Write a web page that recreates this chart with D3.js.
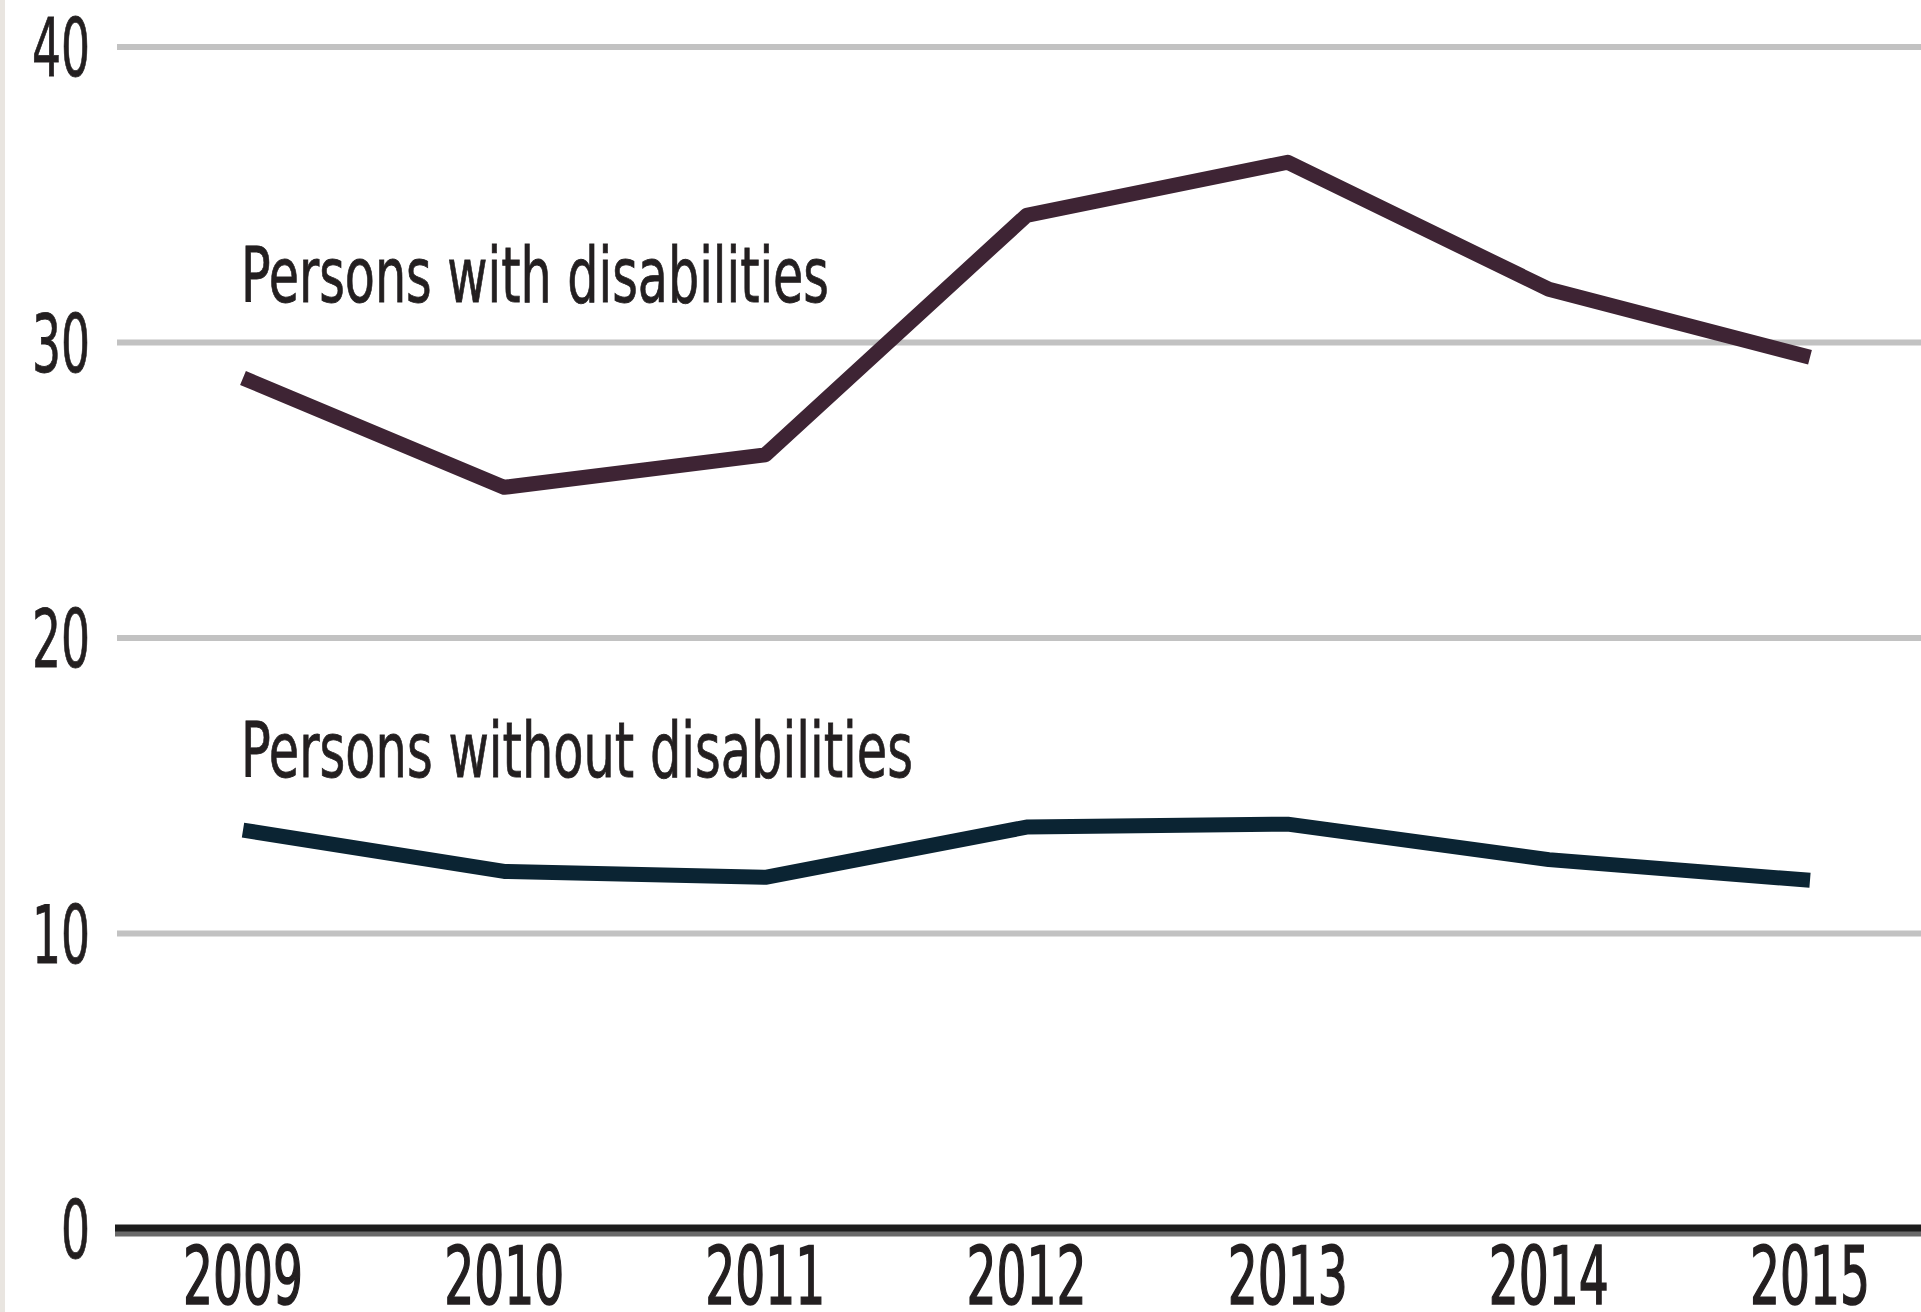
<!DOCTYPE html>
<html>
<head>
<meta charset="utf-8">
<script src="https://cdn.jsdelivr.net/npm/d3@7"></script>
<style>
  html, body { margin: 0; padding: 0; background: #ffffff; }
  svg { display: block; }
</style>
</head>
<body>
<div id="chart"></div>
<script>
// 1. Data

const years = [2009, 2010, 2011, 2012, 2013, 2014, 2015];
const withDisabilities = [28.8, 25.1, 26.2, 34.3, 36.1, 31.8, 29.5];
const withoutDisabilities = [13.5, 12.1, 11.9, 13.6, 13.7, 12.5, 11.8];
const yTicks = [0, 10, 20, 30, 40];
const seriesNames = ["Persons with disabilities", "Persons without disabilities"];

// 2. Dimensions

const dimensions = {
    width: 1921,
    height: 1312,
    gridLeft: 117,
    firstX: 243,
    lastX: 1810,
    top: 47,
    bottom: 1229,
}

const fontFamily = "'Liberation Sans Narrow', 'DejaVu Sans Condensed', 'Roboto', sans-serif";
const textColor = "#231f20";

// 3. Canvas

const svg = d3.select("#chart")
    .append("svg")
        .attr("width", dimensions.width)
        .attr("height", dimensions.height)

// thin beige strip on the far left
svg.append("rect")
    .attr("x", 0)
    .attr("y", 0)
    .attr("width", 5)
    .attr("height", dimensions.height)
    .attr("fill", "#e9e5e0")

// 4. Scales

const xScale = d3.scalePoint()
    .domain(years)
    .range([dimensions.firstX, dimensions.lastX])

const yScale = d3.scaleLinear()
    .domain([0, 40])
    .range([dimensions.bottom, dimensions.top])

// 5. Peripherals

const grid = svg.append("g")

grid.selectAll("line")
    .data(yTicks.filter(d => d > 0))
    .join("line")
        .attr("x1", dimensions.gridLeft)
        .attr("x2", dimensions.width)
        .attr("y1", d => yScale(d))
        .attr("y2", d => yScale(d))
        .attr("stroke", "#c2c2c2")
        .attr("stroke-width", 6)

// baseline: dark grey underlay with black top
svg.append("line")
    .attr("x1", dimensions.gridLeft - 2)
    .attr("x2", dimensions.width)
    .attr("y1", yScale(0) + 2)
    .attr("y2", yScale(0) + 2)
    .attr("stroke", "#6a6a6a")
    .attr("stroke-width", 11)

svg.append("line")
    .attr("x1", dimensions.gridLeft - 2)
    .attr("x2", dimensions.width)
    .attr("y1", yScale(0) - 1)
    .attr("y2", yScale(0) - 1)
    .attr("stroke", "#1c1c1c")
    .attr("stroke-width", 7)

// y tick labels
svg.append("g")
    .selectAll("text")
    .data(yTicks)
    .join("text")
        .attr("x", 90)
        .attr("y", d => yScale(d) + 29)
        .attr("text-anchor", "end")
        .attr("font-family", fontFamily)
        .attr("font-size", 80)
        .attr("fill", textColor)
        .attr("stroke", textColor)
        .attr("stroke-width", 0.8)
        .attr("textLength", d => String(d).length * 29)
        .attr("lengthAdjust", "spacingAndGlyphs")
        .text(d => d)

// x tick labels (clipped by the bottom edge, as in the source)
svg.append("g")
    .selectAll("text")
    .data(years)
    .join("text")
        .attr("x", d => xScale(d))
        .attr("y", 1304)
        .attr("text-anchor", "middle")
        .attr("font-family", fontFamily)
        .attr("font-size", 80)
        .attr("fill", textColor)
        .attr("stroke", textColor)
        .attr("stroke-width", 1.6)
        .attr("textLength", 120)
        .attr("lengthAdjust", "spacingAndGlyphs")
        .text(d => d)

// 6. Lines

const lineGenerator = d3.line()
    .x((d, i) => xScale(years[i]))
    .y(d => yScale(d))

const series = [
    {name: seriesNames[0], values: withDisabilities, color: "#3e2434"},
    {name: seriesNames[1], values: withoutDisabilities, color: "#0b2433"},
]

svg.append("g")
    .selectAll("path")
    .data(series)
    .join("path")
        .attr("d", d => lineGenerator(d.values))
        .attr("fill", "none")
        .attr("stroke", d => d.color)
        .attr("stroke-width", 15)
        .attr("stroke-linejoin", "round")
        .attr("stroke-linecap", "butt")

// 7. Series labels

const labelPositions = [
    {x: 241, y: 302, length: 588},
    {x: 241, y: 777, length: 672},
]

svg.append("g")
    .selectAll("text")
    .data(series)
    .join("text")
        .attr("x", (d, i) => labelPositions[i].x)
        .attr("y", (d, i) => labelPositions[i].y)
        .attr("font-family", fontFamily)
        .attr("font-size", 76)
        .attr("fill", textColor)
        .attr("stroke", textColor)
        .attr("stroke-width", 0.8)
        .attr("textLength", (d, i) => labelPositions[i].length)
        .attr("lengthAdjust", "spacingAndGlyphs")
        .text(d => d.name)
</script>
</body>
</html>
